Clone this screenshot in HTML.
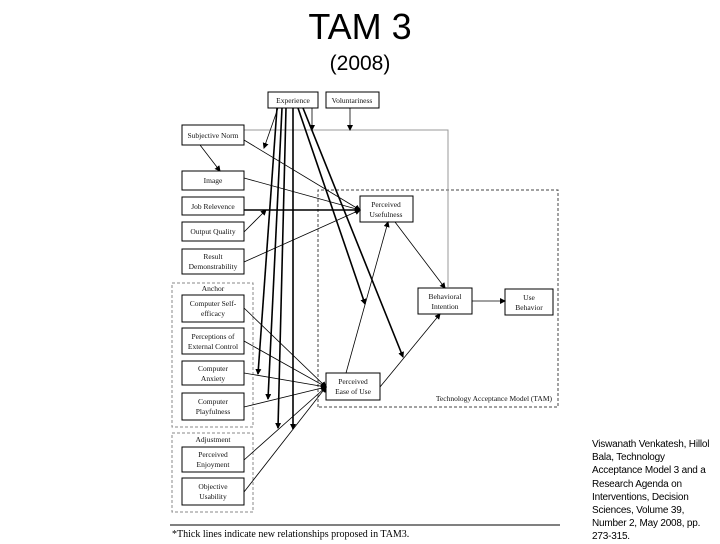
<!DOCTYPE html>
<html><head><meta charset="utf-8"><style>
body{margin:0;width:720px;height:540px;background:#fff;overflow:hidden;position:relative;font-family:"Liberation Sans",sans-serif}
.t{position:absolute;width:720px;text-align:center;left:0}
.cite{position:absolute;left:592px;top:438px;font-size:10px;line-height:13.2px;color:#000;white-space:nowrap;letter-spacing:-0.2px}
</style></head><body>
<div class="t" style="top:6px;font-size:36px">TAM 3</div>
<div class="t" style="top:52px;font-size:21px">(2008)</div>
<svg width="720" height="540" style="position:absolute;left:0;top:0" font-family="Liberation Serif,serif" font-size="7.5">
<defs><marker id="a" markerWidth="6" markerHeight="6" refX="5" refY="3" orient="auto" markerUnits="userSpaceOnUse"><path d="M0,0L6,3L0,6z" fill="#000"/></marker></defs>
<g fill="none" stroke="#888" stroke-dasharray="3,2" stroke-width="1">
<path d="M318,407V190H558V407Z" stroke="#444"/>
<rect x="172" y="283" width="81" height="144"/>
<rect x="172" y="433" width="81" height="79"/>
</g>
<path d="M244,130H448V287" stroke="#999" fill="none"/>
<g stroke="#000" fill="#fff" stroke-width="1">
<rect x="268" y="92" width="50" height="16"/><rect x="326" y="92" width="53" height="16"/>
<rect x="182" y="125" width="62" height="20"/><rect x="182" y="171" width="62" height="19"/>
<rect x="182" y="197" width="62" height="18"/><rect x="182" y="222" width="62" height="19"/>
<rect x="182" y="249" width="62" height="25"/>
<rect x="182" y="295" width="62" height="27"/><rect x="182" y="328" width="62" height="26"/>
<rect x="182" y="361" width="62" height="24"/><rect x="182" y="393" width="62" height="27"/>
<rect x="182" y="447" width="62" height="25"/><rect x="182" y="478" width="62" height="27"/>
<rect x="360" y="196" width="53" height="26"/><rect x="418" y="288" width="54" height="26"/>
<rect x="505" y="289" width="48" height="26"/><rect x="326" y="373" width="54" height="27"/>
</g>
<g stroke="#000" fill="none" marker-end="url(#a)" stroke-width="0.8">
<path d="M278,108L264,148"/><path d="M312,108V130"/><path d="M350,108V130"/>
<path d="M200,145L220,171"/>
<path d="M244,140L360,210"/><path d="M244,178L360,210"/><path d="M244,232L266,210"/><path d="M244,262L360,210"/>
<path d="M346,373L388,222"/><path d="M395,222L445,288"/><path d="M380,387L440,314"/><path d="M472,301L505,301"/>
<path d="M244,308L326,387"/><path d="M244,341L326,387"/><path d="M244,373L326,387"/><path d="M244,407L326,387"/><path d="M244,460L326,387"/><path d="M244,492L326,387"/>
</g>
<g stroke="#000" fill="none" marker-end="url(#a)" stroke-width="1.6">
<path d="M244,210H360"/>
<path d="M277,108L258,374"/><path d="M282,108L268,399"/><path d="M286,108L278,428"/><path d="M293,108V429"/>
<path d="M298,108L365,304"/><path d="M303,108L403,357"/>
</g>
<g text-anchor="middle" fill="#111">
<text x="293" y="103">Experience</text><text x="352" y="103">Voluntariness</text>
<text x="213" y="138">Subjective Norm</text><text x="213" y="183">Image</text>
<text x="213" y="209">Job Relevence</text><text x="213" y="234">Output Quality</text>
<text x="213" y="259">Result</text><text x="213" y="269">Demonstrability</text>
<text x="213" y="291">Anchor</text>
<text x="213" y="306">Computer Self-</text><text x="213" y="316">efficacy</text>
<text x="213" y="339">Perceptions of</text><text x="213" y="349">External Control</text>
<text x="213" y="371">Computer</text><text x="213" y="381">Anxiety</text>
<text x="213" y="404">Computer</text><text x="213" y="414">Playfulness</text>
<text x="213" y="442">Adjustment</text>
<text x="213" y="457">Perceived</text><text x="213" y="467">Enjoyment</text>
<text x="213" y="489">Objective</text><text x="213" y="499">Usability</text>
<text x="386" y="207">Perceived</text><text x="386" y="217">Usefulness</text>
<text x="445" y="299">Behavioral</text><text x="445" y="309">Intention</text>
<text x="529" y="300">Use</text><text x="529" y="310">Behavior</text>
<text x="353" y="384">Perceived</text><text x="353" y="394">Ease of Use</text>
<text x="552" y="401" text-anchor="end">Technology Acceptance Model (TAM)</text>
</g>
<line x1="170" y1="525" x2="560" y2="525" stroke="#000" stroke-width="1"/>
<text x="172" y="537" font-size="10">*Thick lines indicate new relationships proposed in TAM3.</text>
</svg>
<div class="cite">Viswanath Venkatesh, Hillol<br>Bala, Technology<br>Acceptance Model 3 and a<br>Research Agenda on<br>Interventions, Decision<br>Sciences, Volume 39,<br>Number 2, May 2008, pp.<br>273-315.</div>
</body></html>
